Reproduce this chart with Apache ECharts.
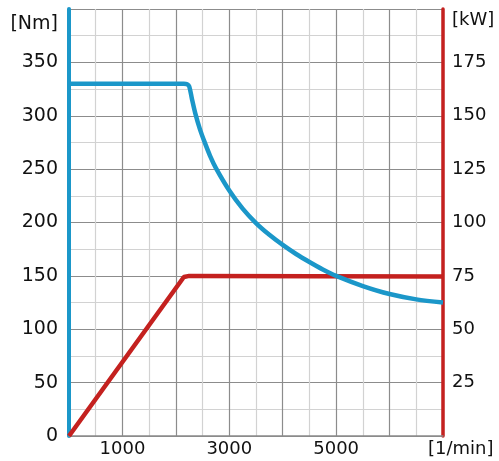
<!DOCTYPE html>
<html>
<head>
<meta charset="utf-8">
<script src="https://cdn.jsdelivr.net/npm/echarts@6/dist/echarts.min.js"></script>
<style>html,body{margin:0;padding:0;background:#fff}#c{width:499px;height:461px}</style>
</head>
<body>
<div id="c"></div>
<script>
const torqueRpm = [0, 2150, 2210, 2250, 2300, 2365, 2450, 2533, 2640, 2750, 3000, 3250, 3500, 3750, 4000, 4250, 4500, 4750, 5000, 5500, 6000, 6500, 7000];
const torqueNm  = [330, 330, 329.5, 327.5, 316, 302, 287.5, 276, 262.5, 251, 230, 213, 199.5, 188.5, 179, 170.5, 163, 156, 150, 140.5, 133, 128, 125];
const powerRpm = [0, 2150, 2250, 7000];
const powerKw  = [0, 74.5, 75, 74.7];
const xTickLabels = [1000, 3000, 5000];
const leftTickLabels = [0, 50, 100, 150, 200, 250, 300, 350];
const rightTickLabels = [25, 50, 75, 100, 125, 150, 175];

const BLUE = '#1b97c9', RED = '#c4211f';
const chart = echarts.init(document.getElementById('c'), null, {renderer: 'canvas'});
const txt = {color: '#111', fontFamily: 'DejaVu Sans', fontSize: 18};
chart.setOption({
  animation: false,
  grid: {left: 69, right: 56, top: 9, bottom: 25},
  xAxis: {
    type: 'value', min: 0, max: 7000, interval: 500,
    name: '[1/min]', nameLocation: 'end', nameGap: -15,
    nameTextStyle: Object.assign({}, txt, {align: 'left', verticalAlign: 'top', padding: [4, 0, 0, 0]}),
    axisLine: {lineStyle: {color: '#8a8a8a', width: 1.5}},
    axisTick: {show: false},
    axisLabel: Object.assign({}, txt, {margin: 4, formatter: v => xTickLabels.includes(v) ? String(v) : ''}),
    splitLine: {show: true, lineStyle: {color: ['#8c8c8c', '#d2d2d2'], width: 1.2}}
  },
  yAxis: [{
    type: 'value', min: 0, max: 400, interval: 25, position: 'left',
    name: '[Nm]', nameLocation: 'end', nameGap: -6,
    nameTextStyle: Object.assign({}, txt, {fontSize: 19, align: 'right', verticalAlign: 'top', padding: [0, 11, 0, 0]}),
    axisLine: {show: true, onZero: false, lineStyle: {color: BLUE, width: 4}},
    axisTick: {show: false},
    axisLabel: Object.assign({}, txt, {fontSize: 19, margin: 11, formatter: v => leftTickLabels.includes(v) ? String(v) : ''}),
    splitLine: {show: true, lineStyle: {color: ['#8c8c8c', '#d2d2d2'], width: 1.2}}
  }, {
    type: 'value', min: 0, max: 200, interval: 12.5, position: 'right',
    name: '[kW]', nameLocation: 'end', nameGap: -2,
    nameTextStyle: Object.assign({}, txt, {align: 'left', verticalAlign: 'top', padding: [0, 0, 0, 9]}),
    axisLine: {show: true, onZero: false, lineStyle: {color: RED, width: 3.5}},
    axisTick: {show: false},
    axisLabel: Object.assign({}, txt, {margin: 9, formatter: v => rightTickLabels.includes(v) ? String(v) : ''}),
    splitLine: {show: false}
  }],
  series: [{
    type: 'line', yAxisIndex: 1, showSymbol: false, symbol: 'none', z: 3,
    data: powerRpm.map((r, i) => [r, powerKw[i]]),
    lineStyle: {color: RED, width: 4.5}
  }, {
    type: 'line', yAxisIndex: 0, showSymbol: false, symbol: 'none', smooth: 0.3, z: 4,
    data: torqueRpm.map((r, i) => [r, torqueNm[i]]),
    lineStyle: {color: BLUE, width: 4.5}
  }]
});
</script>
</body>
</html>
